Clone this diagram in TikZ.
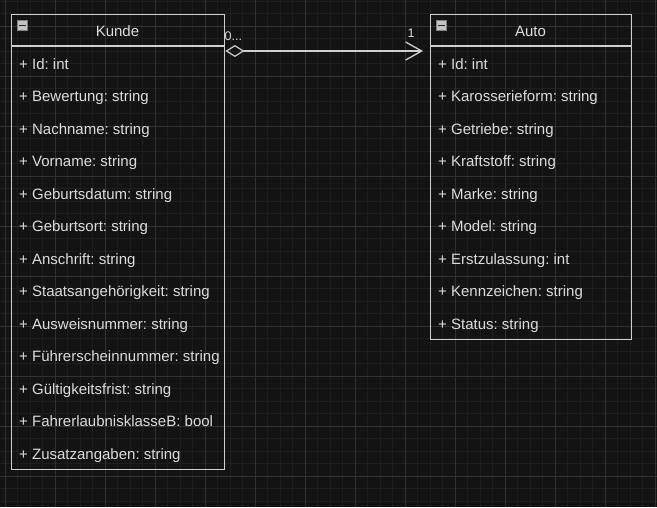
\documentclass[tikz,border=0pt]{standalone}
\usepackage{fontspec}
\setmainfont{Liberation Sans}
\usetikzlibrary{arrows.meta}
\frenchspacing
\definecolor{bgc}{HTML}{131313}
\definecolor{gridminor}{HTML}{1E1E1E}
\definecolor{gridmajor}{HTML}{313131}
\definecolor{edgec}{HTML}{CFCFCF}
\definecolor{txtc}{HTML}{DCDCDC}
\definecolor{iconc}{HTML}{C4C4C4}
\tikzset{
  umlbox/.style={draw=edgec, line width=1.4pt, fill=none, rectangle, anchor=north west, inner sep=0pt},
  rowtext/.style={anchor=base west, text=txtc, font=\fontsize{15}{17}\selectfont\frenchspacing, inner sep=0pt},
  titletext/.style={anchor=base, text=txtc, font=\fontsize{15}{17}\selectfont, inner sep=0pt},
  multtext/.style={text=txtc, font=\fontsize{12.5}{14}\selectfont, inner sep=0pt},
  minusicon/.style={draw=gray, line width=0.8pt, fill=iconc, minimum width=10.5pt, minimum height=10.5pt, inner sep=0pt},
  assoc/.style={draw=edgec, line width=1.4pt, {Diamond[open, length=19pt, width=12pt, line width=1.2pt]}-{Straight Barb[length=16pt, width=18pt, line width=1.3pt]}}
}
\begin{document}
\begin{tikzpicture}[x=1pt,y=-1pt]
\fill[bgc] (0,0) rectangle (657,507);
\useasboundingbox (0,0) rectangle (657,507);
% grid
\foreach \i in {0,...,53} {
  \draw[gridminor, line width=0.8pt] ({-7.5+12.5*\i},0) -- ({-7.5+12.5*\i},507);
}
\foreach \i in {0,...,41} {
  \draw[gridminor, line width=0.8pt] (0,{1+12.5*\i}) -- (657,{1+12.5*\i});
}
\foreach \i in {0,...,13} {
  \draw[gridmajor, line width=0.9pt] ({5+50*\i},0) -- ({5+50*\i},507);
}
\foreach \i in {0,...,10} {
  \draw[gridmajor, line width=0.9pt] (0,{26+50*\i}) -- (657,{26+50*\i});
}
% Kunde
\node[umlbox, minimum width=213pt, minimum height=455pt] (kunde) at (11,14) {};
\draw[edgec, line width=1.4pt] (11,46) -- (224,46);
\node[minusicon] (kminus) at (22.5,25.5) {};
\draw[black!85, line width=1.3pt] ([xshift=2.5pt]kminus.west) -- ([xshift=-2.5pt]kminus.east);
\node[titletext] (ktitle) at (117.5,36) {Kunde};
\foreach \t [count=\k from 0] in {%
  {+ Id: int},{+ Bewertung: string},{+ Nachname: string},{+ Vorname: string},%
  {+ Geburtsdatum: string},{+ Geburtsort: string},{+ Anschrift: string},%
  {+ Staatsangehörigkeit: string},{+ Ausweisnummer: string},%
  {+ Führerscheinnummer: string},{+ Gültigkeitsfrist: string},%
  {+ FahrerlaubnisklasseB: bool},{+ Zusatzangaben: string}} {
  \node[rowtext] (krow\k) at (19,{69+32.5*\k}) {\t};
}
% Auto
\node[umlbox, minimum width=201pt, minimum height=325pt] (auto) at (430,14) {};
\draw[edgec, line width=1.4pt] (430,46) -- (631,46);
\node[minusicon] (aminus) at (441.5,25.5) {};
\draw[black!85, line width=1.3pt] ([xshift=2.5pt]aminus.west) -- ([xshift=-2.5pt]aminus.east);
\node[titletext] (atitle) at (530.5,36) {Auto};
\foreach \t [count=\k from 0] in {%
  {+ Id: int},{+ Karosserieform: string},{+ Getriebe: string},%
  {+ Kraftstoff: string},{+ Marke: string},{+ Model: string},%
  {+ Erstzulassung: int},{+ Kennzeichen: string},{+ Status: string}} {
  \node[rowtext] (arow\k) at (438,{69+32.5*\k}) {\t};
}
% association
\coordinate (src) at ([yshift=-37pt]kunde.north east);
\coordinate (dst) at ([yshift=-37pt, xshift=-7pt]auto.north west);
\draw[assoc] (src) -- (dst);
\node[multtext, anchor=base west] (m0) at (224.5,40) {0...};
\node[multtext, anchor=base] (m1) at (411,37.5) {1};
\end{tikzpicture}
\end{document}
